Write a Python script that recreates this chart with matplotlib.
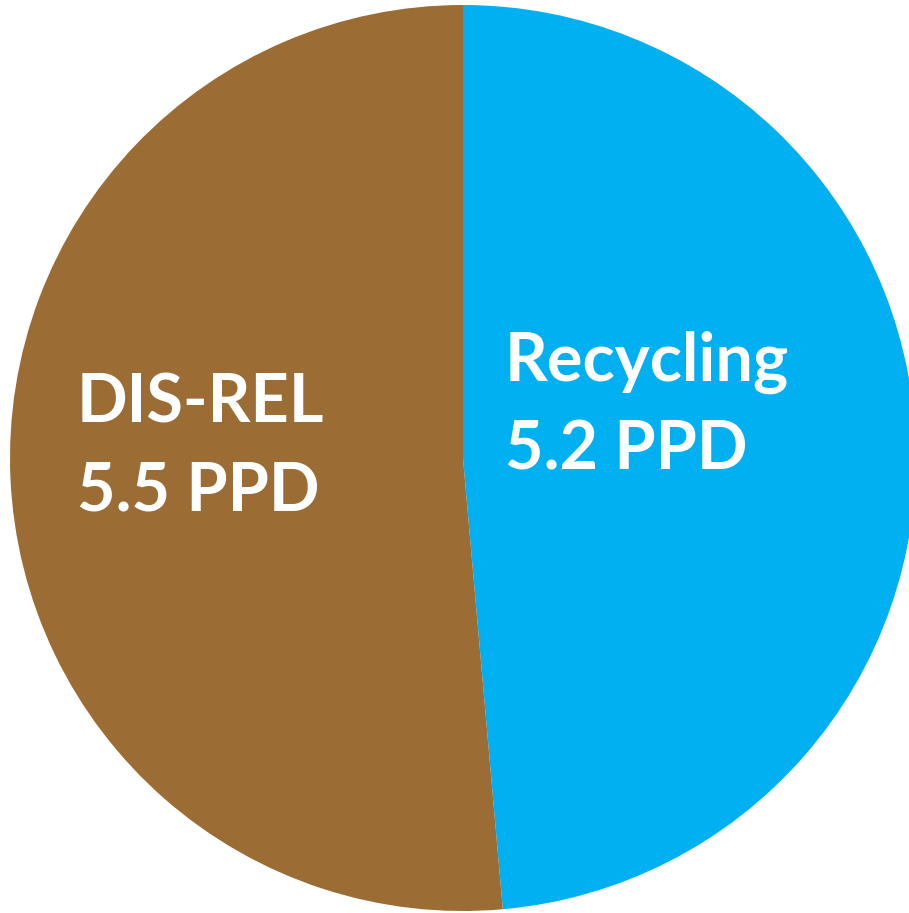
import matplotlib.pyplot as plt

labels = ["Recycling", "DIS-REL"]
values = [5.2, 5.5]
units = "PPD"
colors = ["#00B0F0", "#9B6D34"]

W, H = 909, 913
fig = plt.figure(figsize=(W / 100, H / 100), dpi=100)
ax = fig.add_axes([0, 0, 1, 1])

cx, cy, r = 463, H - 458, 453
ax.pie(values, colors=colors, startangle=90, counterclock=False,
       center=(cx, cy), radius=r, frame=True,
       wedgeprops=dict(linewidth=0))
ax.set_xlim(0, W)
ax.set_ylim(0, H)
ax.set_aspect("equal")
ax.axis("off")

# label anchors (left edge, first baseline) in pixels from top
anchors = [(505, 381), (77, 422)]
for (x, y), lab, v in zip(anchors, labels, values):
    ax.text(x, H - y, lab, color="white", fontsize=48, fontweight="bold",
            family="Lato", ha="left", va="baseline")
    ax.text(x, H - y - 88, f"{v} {units}", color="white", fontsize=48,
            fontweight="bold", family="Lato", ha="left", va="baseline")

fig.savefig("out.png", dpi=100)
